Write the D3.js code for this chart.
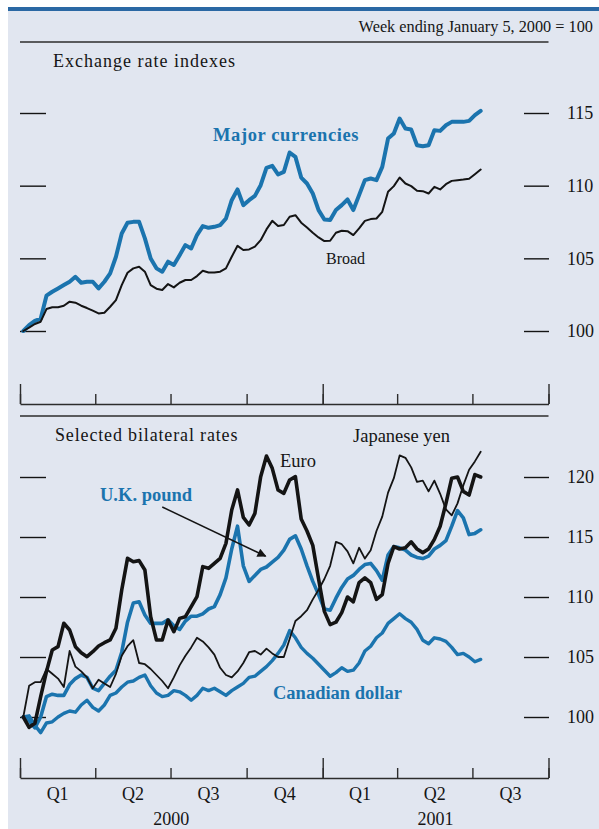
<!DOCTYPE html>
<html>
<head>
<meta charset="utf-8">
<script src="https://cdn.jsdelivr.net/npm/d3@7"></script>
<style>
  body { margin: 0; background: #ffffff; }
  svg { display: block; }
  text { font-family: "Liberation Serif", "Times New Roman", serif; fill: #151515; }
</style>
</head>
<body>
<script>
// Weekly observations, week ending January 5, 2000 = 100
const firstWeek = new Date(2000, 0, 5);
const weekCount = 80;

// Exchange rate indexes
const majorCurrencies = [
  100.0, 100.4, 100.7, 100.85, 102.43, 102.7, 102.93, 103.16, 103.39, 103.73,
  103.32, 103.39, 103.39, 102.93, 103.39, 103.96, 105.11, 106.71, 107.45, 107.51,
  107.51, 106.37, 104.99, 104.31, 104.08, 104.77, 104.54, 105.22, 105.91, 105.68,
  106.6, 107.22, 107.1, 107.17, 107.29, 107.74, 109.0, 109.74, 108.66, 109.0,
  109.3, 110.03, 111.23, 111.36, 110.77, 110.95, 112.28, 111.98, 110.56, 110.15,
  109.46, 108.32, 107.67, 107.63, 108.32, 108.66, 109.05, 108.32, 109.35, 110.38,
  110.49, 110.38, 111.29, 113.24, 113.59, 114.62, 113.93, 113.86, 112.78, 112.71,
  112.78, 113.81, 113.77, 114.16, 114.39, 114.39, 114.39, 114.46, 114.85, 115.14
];
const broad = [
  100.0, 100.23, 100.48, 100.64, 101.51, 101.63, 101.63, 101.74, 102.02, 101.95,
  101.74, 101.58, 101.4, 101.21, 101.26, 101.67, 102.13, 103.16, 104.01, 104.31,
  104.42, 104.08, 103.16, 102.91, 102.82, 103.23, 103.0, 103.32, 103.51, 103.51,
  103.78, 104.15, 104.03, 104.03, 104.08, 104.31, 105.11, 105.86, 105.57, 105.61,
  105.8, 106.25, 106.99, 107.58, 107.22, 107.29, 107.86, 107.97, 107.45, 107.12,
  106.76, 106.44, 106.19, 106.21, 106.76, 106.9, 106.87, 106.6, 107.06, 107.58,
  107.7, 107.74, 108.2, 109.58, 109.97, 110.56, 110.15, 109.97, 109.65, 109.62,
  109.46, 109.92, 109.74, 110.1, 110.33, 110.38, 110.42, 110.47, 110.79, 111.11
];

// Selected bilateral rates
const euro = [
  100.0, 99.14, 99.47, 101.69, 103.78, 105.58, 105.86, 107.81, 107.25, 105.86,
  105.36, 105.03, 105.44, 105.92, 106.19, 106.42, 107.39, 110.58, 113.22, 112.94,
  113.03, 112.25, 108.36, 106.42, 106.42, 108.08, 107.11, 108.22, 108.36, 109.19,
  110.03, 112.53, 112.39, 112.81, 113.22, 114.47, 117.25, 118.92, 116.64, 116.0,
  116.97, 120.03, 121.75, 120.72, 118.92, 118.64, 119.75, 120.03, 116.5, 115.5,
  114.3, 111.5, 108.8, 107.7, 107.9, 108.7, 110.0, 109.6, 111.2, 111.6,
  111.2, 109.8, 110.2, 112.8, 114.2, 114.0, 114.1, 114.6, 114.0, 113.7,
  114.0, 114.8, 115.9, 117.8, 119.9, 120.0, 118.8, 118.5, 120.2, 120.0
];
const japaneseYen = [
  100.0, 102.6, 102.9, 102.9, 104.0, 103.6, 103.2, 102.5, 105.5, 104.2,
  103.8, 103.3, 102.4, 103.1, 102.8, 102.5, 103.6, 105.1, 105.9, 106.4,
  104.5, 104.4, 104.0, 103.5, 103.0, 102.4, 103.3, 104.3, 105.1, 105.8,
  106.6, 106.3, 105.8, 105.2, 104.1, 103.5, 103.3, 103.8, 104.5, 105.4,
  105.5, 105.2, 105.7, 105.3, 105.0, 105.0, 106.5, 108.0, 108.4, 108.9,
  109.8, 110.6, 111.5, 112.6, 114.6, 114.4, 113.8, 112.8, 114.1, 113.2,
  113.9, 115.5, 116.7, 118.7, 119.9, 121.8, 121.6, 120.8, 119.6, 119.7,
  118.8, 119.7, 118.6, 117.3, 116.8, 117.8, 119.3, 120.6, 121.3, 122.1
];
const ukPound = [
  100.0, 99.7, 99.1, 100.0, 101.7, 101.9, 101.8, 101.8, 102.7, 103.2,
  103.5, 103.3, 102.4, 102.2, 102.8, 103.4, 103.9, 105.4, 107.9, 109.5,
  109.6, 108.5, 107.8, 107.8, 107.8, 108.1, 107.6, 107.3, 108.0, 108.4,
  108.4, 108.6, 109.0, 109.2, 110.2, 111.6, 114.0, 115.9, 112.6, 111.3,
  111.8, 112.3, 112.5, 112.9, 113.3, 113.9, 114.8, 115.1, 114.0, 112.6,
  111.3, 110.2, 109.0, 108.9, 109.9, 110.8, 111.5, 111.8, 112.3, 112.7,
  112.8, 112.2, 111.4, 113.5, 114.2, 114.1, 113.9, 113.5, 113.3, 113.2,
  113.4, 114.0, 114.3, 114.7, 115.9, 117.2, 116.6, 115.2, 115.3, 115.6
];
const canadianDollar = [
  100.0, 100.1, 99.3, 98.7, 99.5, 99.6, 100.0, 100.3, 100.5, 100.4,
  101.0, 101.4, 100.8, 100.5, 101.0, 101.8, 102.0, 102.5, 102.9, 103.0,
  103.3, 103.5, 102.6, 102.0, 101.7, 101.8, 102.2, 102.1, 101.8, 101.4,
  101.8, 102.4, 102.2, 102.4, 102.1, 101.8, 102.2, 102.5, 102.8, 103.3,
  103.4, 103.8, 104.2, 104.7, 105.3, 106.0, 107.2, 106.6, 105.8, 105.3,
  104.9, 104.4, 103.9, 103.4, 103.7, 104.1, 103.8, 103.9, 104.5, 105.5,
  105.9, 106.6, 107.0, 107.8, 108.2, 108.6, 108.2, 107.9, 107.3, 106.4,
  106.1, 106.6, 106.5, 106.3, 105.8, 105.2, 105.3, 105.0, 104.6, 104.8
];

// Axis labels
const topTicks = [100, 105, 110, 115];
const bottomTicks = [100, 105, 110, 115, 120];
const quarterNames = ["Q1", "Q2", "Q3", "Q4", "Q1", "Q2", "Q3"];
const yearLabels = [
  { label: "2000", from: new Date(2000, 0, 1), to: new Date(2001, 0, 1) },
  { label: "2001", from: new Date(2001, 0, 1), to: new Date(2001, 9, 1) }
];

const W = 599, H = 829;
const BLUE = "#1b74ae";
const INK = "#141414";
const RULE = "#2c2c2c";

const dates = d3.range(weekCount).map(i => d3.timeDay.offset(firstWeek, 7 * i));
const toPoints = vals => vals.map((v, i) => ({ date: dates[i], value: v }));

const svg = d3.select("body").append("svg")
  .attr("width", W).attr("height", H);

// page panel and top band
svg.append("rect").attr("x", 8).attr("y", 11).attr("width", W - 8).attr("height", H - 11)
  .attr("fill", "#e1e6f0");
svg.append("rect").attr("x", 8).attr("y", 7).attr("width", W - 8).attr("height", 4)
  .attr("fill", "#2a68a4");

const start = new Date(2000, 0, 1), end = new Date(2001, 9, 1);
const x = d3.scaleTime().domain([start, end]).range([20, 548.5]);
const yTop = d3.scaleLinear().domain([100, 115]).range([331, 113]);
const yBot = d3.scaleLinear().domain([100, 120]).range([717, 477]);

// header
svg.append("text").attr("x", 593).attr("y", 32).attr("text-anchor", "end")
  .attr("font-size", 16.3).text("Week ending January 5, 2000 = 100");
svg.append("line").attr("x1", 20).attr("x2", 548.5).attr("y1", 42).attr("y2", 42)
  .attr("stroke", RULE).attr("stroke-width", 1.6);

function yTicks(y, values) {
  // short dashes on both sides, labels on the right
  svg.append("g").attr("transform", "translate(524,0)")
    .call(d3.axisRight(y).tickValues(values).tickSize(25).tickPadding(18).tickFormat(d3.format("d")))
    .call(g => g.select(".domain").remove())
    .call(g => g.selectAll("line").attr("stroke", INK).attr("stroke-width", 1.4))
    .call(g => g.selectAll("text").attr("font-size", 18).attr("font-family", null).attr("fill", INK));
  svg.append("g").attr("transform", "translate(20,0)")
    .call(d3.axisRight(y).tickValues(values).tickSize(26).tickFormat(""))
    .call(g => g.select(".domain").remove())
    .call(g => g.selectAll("line").attr("stroke", INK).attr("stroke-width", 1.4));
}

const quarterStarts = d3.timeMonth.every(3).range(start, d3.timeDay.offset(end, 1));
const tallTicks = [start, new Date(2001, 0, 1), end];

function timeAxis(yPos) {
  svg.append("g").attr("transform", `translate(0,${yPos})`)
    .call(d3.axisTop(x).tickValues(quarterStarts).tickSize(10).tickSizeOuter(0).tickFormat(""))
    .call(g => g.select(".domain").attr("stroke", RULE).attr("stroke-width", 1.6))
    .call(g => g.selectAll(".tick line").attr("stroke", RULE).attr("stroke-width", 1.4));
  svg.append("g").attr("transform", `translate(0,${yPos})`)
    .call(d3.axisTop(x).tickValues(tallTicks).tickSize(20).tickFormat(""))
    .call(g => g.select(".domain").remove())
    .call(g => g.selectAll(".tick line").attr("stroke", RULE).attr("stroke-width", 1.4));
}

const lineTop = d3.line().x(d => x(d.date)).y(d => yTop(d.value));
const lineBot = d3.line().x(d => x(d.date)).y(d => yBot(d.value));

function drawSeries(gen, vals, color, width) {
  svg.append("path").datum(toPoints(vals))
    .attr("d", gen).attr("fill", "none").attr("stroke", color)
    .attr("stroke-width", width).attr("stroke-linejoin", "round").attr("stroke-linecap", "round");
}

// ---- Top panel: exchange rate indexes
svg.append("text").attr("x", 53).attr("y", 67).attr("font-size", 18)
  .attr("letter-spacing", 1).text("Exchange rate indexes");
yTicks(yTop, topTicks);
timeAxis(404);
drawSeries(lineTop, majorCurrencies, BLUE, 4);
drawSeries(lineTop, broad, INK, 2);
svg.append("text").attr("x", 213).attr("y", 141).attr("font-size", 18.5)
  .attr("font-weight", "bold").attr("letter-spacing", 0.6).style("fill", BLUE)
  .text("Major currencies");
svg.append("text").attr("x", 326).attr("y", 264).attr("font-size", 16).text("Broad");

// separator between panels
svg.append("line").attr("x1", 20).attr("x2", 548.5).attr("y1", 416).attr("y2", 416)
  .attr("stroke", RULE).attr("stroke-width", 1.6);

// ---- Bottom panel: selected bilateral rates
svg.append("text").attr("x", 55).attr("y", 441).attr("font-size", 18)
  .attr("letter-spacing", 0.85).text("Selected bilateral rates");
yTicks(yBot, bottomTicks);
timeAxis(778);
drawSeries(lineBot, canadianDollar, BLUE, 3.4);
drawSeries(lineBot, ukPound, BLUE, 3.6);
drawSeries(lineBot, japaneseYen, INK, 1.8);
drawSeries(lineBot, euro, INK, 3.6);

svg.append("text").attr("x", 280).attr("y", 467).attr("font-size", 18.5).text("Euro");
svg.append("text").attr("x", 353).attr("y", 442).attr("font-size", 18.5).text("Japanese yen");
svg.append("text").attr("x", 100).attr("y", 501).attr("font-size", 18.5)
  .attr("font-weight", "bold").style("fill", BLUE).text("U.K. pound");
svg.append("text").attr("x", 273).attr("y", 699).attr("font-size", 18.5)
  .attr("font-weight", "bold").style("fill", BLUE).text("Canadian dollar");

// pointer from the pound label to its line
svg.append("defs").append("marker")
  .attr("id", "head").attr("viewBox", "0 0 10 10").attr("refX", 9).attr("refY", 5)
  .attr("markerWidth", 7).attr("markerHeight", 6).attr("markerUnits", "strokeWidth")
  .attr("orient", "auto")
  .append("path").attr("d", "M0,0L10,5L0,10z").attr("fill", INK);
const pointerFrom = { date: new Date(2000, 5, 21), value: 117.5 };
const pointerTo = { date: new Date(2000, 9, 24), value: 113.4 };
svg.append("line")
  .attr("x1", x(pointerFrom.date)).attr("y1", yBot(pointerFrom.value))
  .attr("x2", x(pointerTo.date)).attr("y2", yBot(pointerTo.value))
  .attr("stroke", INK).attr("stroke-width", 1.5).attr("marker-end", "url(#head)");

// quarter and year labels
svg.append("g").selectAll("text").data(quarterNames).join("text")
  .attr("x", (d, i) => (x(quarterStarts[i]) + x(quarterStarts[i + 1])) / 2)
  .attr("y", 800).attr("text-anchor", "middle").attr("font-size", 18).text(d => d);
svg.append("g").selectAll("text").data(yearLabels).join("text")
  .attr("x", d => (x(d.from) + x(d.to)) / 2)
  .attr("y", 825).attr("text-anchor", "middle").attr("font-size", 18).text(d => d.label);
</script>
</body>
</html>
